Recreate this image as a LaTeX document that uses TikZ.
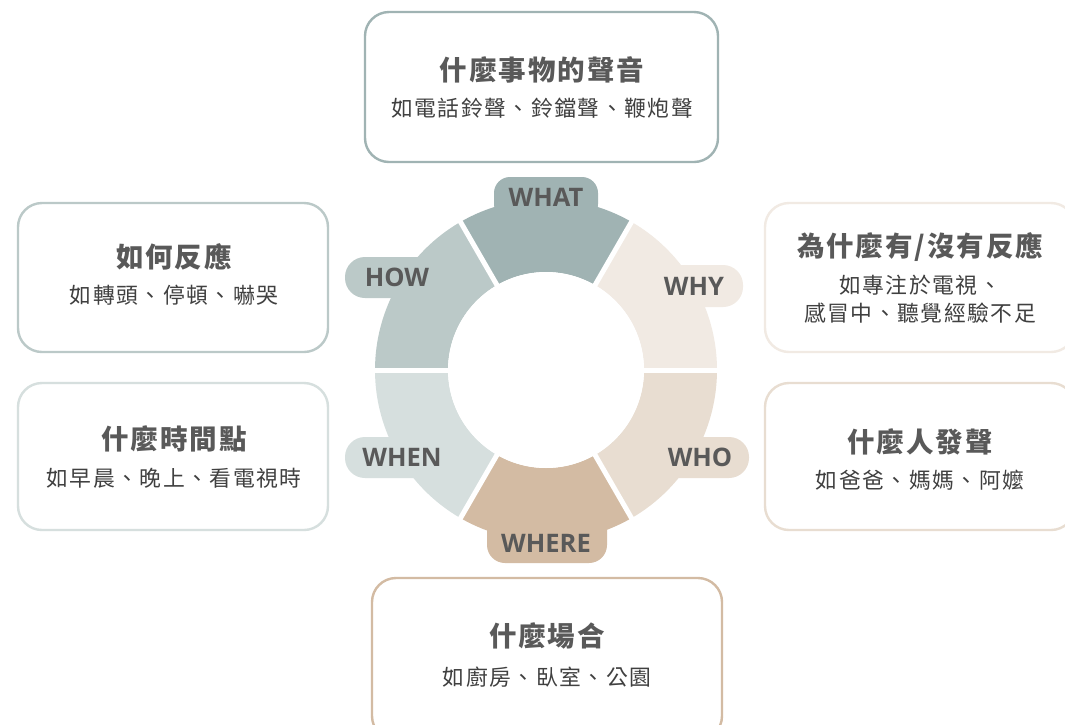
\documentclass[tikz,border=0pt]{standalone}
\usepackage{fontspec}
\newfontfamily\titlefont{Noto Sans CJK TC}[LetterSpace=7]
\newfontfamily\subfont{Noto Sans CJK TC}[LetterSpace=7]
\newfontfamily\labfont{Open Sans}
\definecolor{cWhat}{HTML}{A0B3B3}
\definecolor{cHow}{HTML}{BBC9C8}
\definecolor{cWhen}{HTML}{D6DFDE}
\definecolor{cWhere}{HTML}{D3BBA3}
\definecolor{cWho}{HTML}{E8DDD1}
\definecolor{cWhy}{HTML}{F1EAE3}
\definecolor{tDark}{HTML}{595959}
\definecolor{tSub}{HTML}{404040}
\tikzset{
  infobox/.style={line width=2.4pt, rounded corners=24pt, fill=white},
  pill/.style={rounded corners=#1},
  ttl/.style={text=tDark, font=\titlefont\bfseries\fontsize{27.5}{32}\selectfont, inner sep=0pt},
  sub/.style={text=tSub, font=\subfont\fontsize{21.8}{28}\selectfont, inner sep=0pt, align=center},
  lab/.style={text=tDark, font=\labfont\bfseries\fontsize{25.5}{28}\selectfont, inner sep=0pt},
  gapline/.style={white, line width=5pt}
}
\begin{document}
\begin{tikzpicture}[x=1pt,y=-1pt]
\useasboundingbox (0,0) rectangle (1065,724);
\fill[white] (0,0) rectangle (1065,724);
% boxes
\draw[infobox, draw=cWhat]  (365,12) rectangle (718,162);
\draw[infobox, draw=cHow]   (18,203) rectangle (328,352);
\draw[infobox, draw=cWhen]  (18,383) rectangle (328,530);
\draw[infobox, draw=cWhy]   (765,203) rectangle (1075,352);
\draw[infobox, draw=cWho]   (765,383) rectangle (1075,530);
\draw[infobox, draw=cWhere] (372,578) rectangle (722,740);
% pills
\fill[pill=16pt, cWhat]  (494,177) rectangle (598,220);
\fill[pill=20pt, cHow]   (345,257) rectangle (445,298);
\fill[pill=20pt, cWhy]   (645,265) rectangle (743,307);
\fill[pill=20pt, cWhen]  (345,437) rectangle (450,478);
\fill[pill=20pt, cWho]   (645,437) rectangle (749,478);
\fill[pill=18pt, cWhere] (487,510) rectangle (607,563);
% ring
\begin{scope}[shift={(546,370)}, x=1pt, y=1pt]
  \foreach \a/\c in {0/cWhy,60/cWhat,120/cHow,180/cWhen,240/cWhere,300/cWho}{
    \pgfmathsetmacro{\b}{\a+60}
    \fill[\c] (\a:98) arc[start angle=\a, end angle=\b, radius=98]
      -- (\b:171) arc[start angle=\b, end angle=\a, radius=171] -- cycle;
  }
  \foreach \a in {0,60,...,300}{
    \draw[gapline] (\a:90) -- (\a:175);
  }
  \fill[white] (0,0) circle[radius=98];
\end{scope}
% labels
\node[lab] (lwhat)  at (546,197) {WHAT};
\node[lab] (lhow)   at (397,277) {HOW};
\node[lab] (lwhy)   at (694,286) {WHY};
\node[lab] (lwhen)  at (402,457) {WHEN};
\node[lab] (lwho)   at (700,457) {WHO};
\node[lab] (lwhere) at (546,543) {WHERE};
% texts
\node[ttl] (t1) at (542,70)  {什麼事物的聲音};
\node[sub] (s1) at (542,108) {如電話鈴聲、鈴鐺聲、鞭炮聲};
\node[ttl] (t2) at (174,257) {如何反應};
\node[sub] (s2) at (174,295) {如轉頭、停頓、嚇哭};
\node[ttl] (t3) at (174,439) {什麼時間點};
\node[sub] (s3) at (174,478) {如早晨、晚上、看電視時};
\node[ttl] (t4) at (920,247) {為什麼有/沒有反應};
\node[sub] (s4) at (920,299) {如專注於電視、\\感冒中、聽覺經驗不足};
\node[ttl] (t5) at (920,442) {什麼人發聲};
\node[sub] (s5) at (920,480) {如爸爸、媽媽、阿嬤};
\node[ttl] (t6) at (547,636) {什麼場合};
\node[sub] (s6) at (547,677) {如廚房、臥室、公園};
\end{tikzpicture}
\end{document}
